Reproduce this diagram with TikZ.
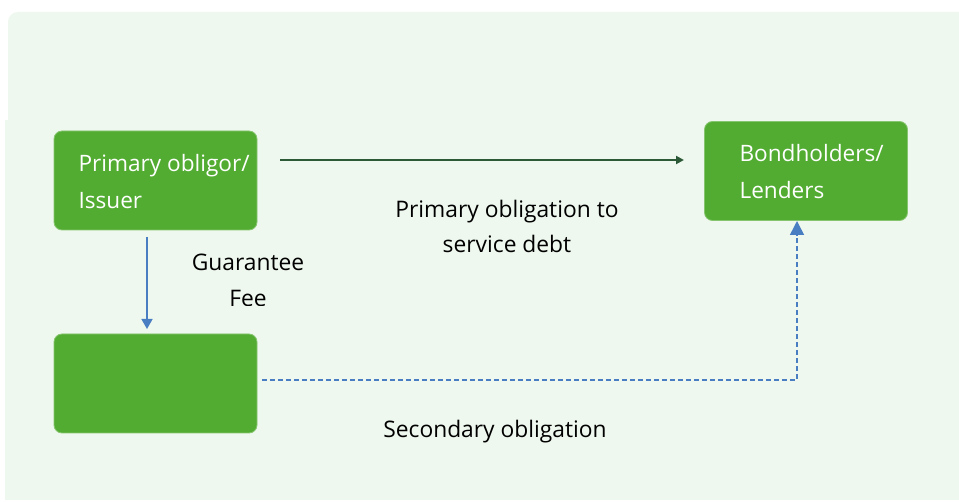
\documentclass[tikz,border=0pt]{standalone}
\usepackage{fontspec}
\setmainfont{Open Sans}
\usetikzlibrary{arrows.meta}
\definecolor{bgc}{HTML}{EEF8EE}
\definecolor{boxc}{HTML}{52AC32}
\definecolor{darkg}{HTML}{2D5A36}
\definecolor{bluec}{HTML}{4A7EC2}
\tikzset{
  box/.style={fill=boxc, draw=boxc!70!white, line width=0.8pt, rounded corners=8pt, minimum width=203pt, minimum height=99pt, inner sep=0pt},
  boxtext/.style={text=white, font=\fontsize{22.6}{37}\selectfont, align=left, anchor=west},
  lbl/.style={text=black, font=\fontsize{22.8}{35}\selectfont, align=center},
  bluearrow/.style={draw=bluec, line width=1.5pt, -{Triangle[length=10pt,width=11pt]}},
}
\begin{document}
\begin{tikzpicture}[x=1pt,y=-1pt]
\useasboundingbox (0,0) rectangle (959,502);
\fill[white] (0,0) rectangle (959,502);
\fill[bgc, rounded corners=10pt] (8,12) rectangle (975,500);
\fill[bgc] (5,120) rectangle (20,500);
% boxes
\node[box] (issuer) at (155.5,180.5) {};
\node[boxtext] (issuertext) at (75,181.5) {Primary obligor/\\Issuer};
\node[box] (lenders) at (806,171) {};
\node[boxtext] (lenderstext) at (736,172) {Bondholders/\\Lenders};
\node[box] (guarantor) at (155.5,383.5) {};
% connectors
\coordinate (pstart) at (280,160);
\coordinate (pend) at (684,160);
\draw[darkg, line width=2.6pt, -{Triangle[length=8pt,width=8pt]}] (pstart) -- (pend);
\coordinate (gstart) at (147,237);
\coordinate (gend) at (147,329);
\draw[bluearrow] (gstart) -- (gend);
\coordinate (sstart) at (262,380);
\coordinate (scorner) at (797,380);
\coordinate (send) at (797,221);
\draw[bluec, line width=1.5pt, dash pattern=on 5pt off 3pt, -{Triangle[length=14pt,width=14pt]}] (sstart) -- (scorner) -- (send);
% labels
\node[lbl] (plabel) at (507,226) {Primary obligation to\\service debt};
\node[lbl] (glabel) at (248,262) {Guarantee};
\begin{scope}
\clip (150,280) rectangle (350,306);
\node[lbl] (flabel) at (248,298.5) {Fee};
\end{scope}
\node[lbl] (slabel) at (495,432) {Secondary obligation};
\end{tikzpicture}
\end{document}
